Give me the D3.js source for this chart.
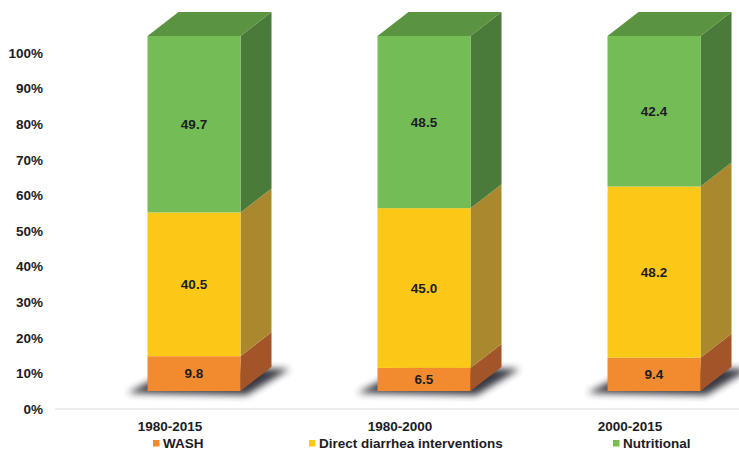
<!DOCTYPE html>
<html>
<head>
<meta charset="utf-8">
<script src="https://cdn.jsdelivr.net/npm/d3@7"></script>
<style>
  html, body { margin: 0; padding: 0; background: #fff; }
  svg { display: block; font-family: "Liberation Sans", Arial, sans-serif; font-weight: bold; }
</style>
</head>
<body>
<svg id="chart" width="739" height="450"></svg>
<script>
// Share of the change attributed to each intervention group (%)
const periods = ["1980-2015", "1980-2000", "2000-2015"];
const seriesNames = ["WASH", "Direct diarrhea interventions", "Nutritional"];
const washValues = [9.8, 6.5, 9.4];
const directValues = [40.5, 45.0, 48.2];
const nutritionalValues = [49.7, 48.5, 42.4];
const tickValues = [0, 10, 20, 30, 40, 50, 60, 70, 80, 90, 100];

const seriesValues = [washValues, directValues, nutritionalValues];
const frontColors = ["#f28a30", "#fcc817", "#74bc55"];
const sideColors = ["#a45429", "#aa892e", "#4b7b3a"];
const topColors = ["#a8642f", "#b29232", "#5b9440"];

const svg = d3.select("#chart");
const textColor = "#1c1c24";
const fontSize = "13.5px";

// Rows for the stack
const rows = periods.map((p, i) => {
  const r = { period: p };
  seriesNames.forEach((s, j) => r[s] = seriesValues[j][i]);
  return r;
});
const stacked = d3.stack().keys(seriesNames)(rows);

// Scales
const x = d3.scaleBand().domain(periods).range([55, 745]);
const yAxisScale = d3.scaleLinear().domain([0, 100]).range([409, 53]);
// front faces of the 3D columns sit above the axis floor line
const yFront = d3.scaleLinear().domain([0, 100]).range([391, 36]);
const depthX = 31, depthY = 24;
const barWidth = 93;
const barShift = 24; // columns sit right of the category centre in the 3D view
const barLeft = p => x(p) + x.bandwidth() / 2 + barShift - barWidth / 2;

// Floor line
svg.append("line")
  .attr("x1", 55).attr("x2", 739)
  .attr("y1", yAxisScale(0)).attr("y2", yAxisScale(0))
  .attr("stroke", "#d9d9d9").attr("stroke-width", 1.2);

// Y axis labels
const yAxis = d3.axisLeft(yAxisScale)
  .tickValues(tickValues)
  .tickFormat(d => d + "%")
  .tickSize(0)
  .tickPadding(0);
const yg = svg.append("g").attr("transform", "translate(43,0)").call(yAxis);
yg.select(".domain").remove();
yg.selectAll("text")
  .attr("fill", textColor)
  .style("font-size", fontSize)
  .style("font-family", "'Liberation Sans', Arial, sans-serif")
  .style("font-weight", "bold");

// Soft shadow under each column
const defs = svg.append("defs");
defs.append("filter").attr("id", "shadowBlur")
  .attr("x", "-50%").attr("y", "-50%").attr("width", "200%").attr("height", "200%")
  .append("feGaussianBlur").attr("stdDeviation", 3.5);

const shadowG = svg.append("g");
periods.forEach(p => {
  const x0 = barLeft(p), x1 = x0 + barWidth, yb = yFront(0);
  const pts = [
    [x0 - 20, yb + 2],
    [x1 + 6, yb + 4],
    [x1 + depthX + 18, yb - depthY + 2],
    [x0 + depthX, yb - depthY]
  ];
  shadowG.append("polygon")
    .attr("points", pts.map(d => d.join(",")).join(" "))
    .attr("fill", "#2e2e38")
    .attr("opacity", 0.95)
    .attr("filter", "url(#shadowBlur)");
});

// Columns
const barsG = svg.append("g");
stacked.forEach((layer, j) => {
  layer.forEach((seg, i) => {
    const p = periods[i];
    const x0 = barLeft(p), x1 = x0 + barWidth;
    const yTop = yFront(seg[1]), yBot = yFront(seg[0]);
    const g = barsG.append("g");
    // side face
    g.append("polygon")
      .attr("points", [[x1, yBot], [x1 + depthX, yBot - depthY], [x1 + depthX, yTop - depthY], [x1, yTop]]
        .map(d => d.join(",")).join(" "))
      .attr("fill", sideColors[j]);
    // front face
    g.append("rect")
      .attr("x", x0).attr("y", yTop)
      .attr("width", barWidth).attr("height", yBot - yTop)
      .attr("fill", frontColors[j]);
    // top face on the highest segment
    if (j === stacked.length - 1) {
      g.append("polygon")
        .attr("points", [[x0, yTop], [x1, yTop], [x1 + depthX, yTop - depthY], [x0 + depthX, yTop - depthY]]
          .map(d => d.join(",")).join(" "))
        .attr("fill", topColors[j]);
    }
    // value label
    g.append("text")
      .attr("x", x0 + barWidth / 2)
      .attr("y", (yTop + yBot) / 2)
      .attr("dy", "0.35em")
      .attr("text-anchor", "middle")
      .attr("fill", textColor)
      .style("font-size", fontSize)
      .text(seriesValues[j][i].toFixed(1));
  });
});

// Category labels
svg.append("g").selectAll("text")
  .data(periods).join("text")
  .attr("x", d => x(d) + x.bandwidth() / 2)
  .attr("y", 430.5)
  .attr("text-anchor", "middle")
  .attr("fill", textColor)
  .style("font-size", fontSize)
  .text(d => d);

// Legend
const legendX = [153, 309, 613];
const legend = svg.append("g").selectAll("g")
  .data(seriesNames).join("g")
  .attr("transform", (d, i) => `translate(${legendX[i]},0)`);
legend.append("rect")
  .attr("x", 0).attr("y", 440)
  .attr("width", 6.5).attr("height", 6.5)
  .attr("fill", (d, i) => frontColors[i]);
legend.append("text")
  .attr("x", 10).attr("y", 447.5)
  .attr("fill", textColor)
  .style("font-size", fontSize)
  .text(d => d);
</script>
</body>
</html>
